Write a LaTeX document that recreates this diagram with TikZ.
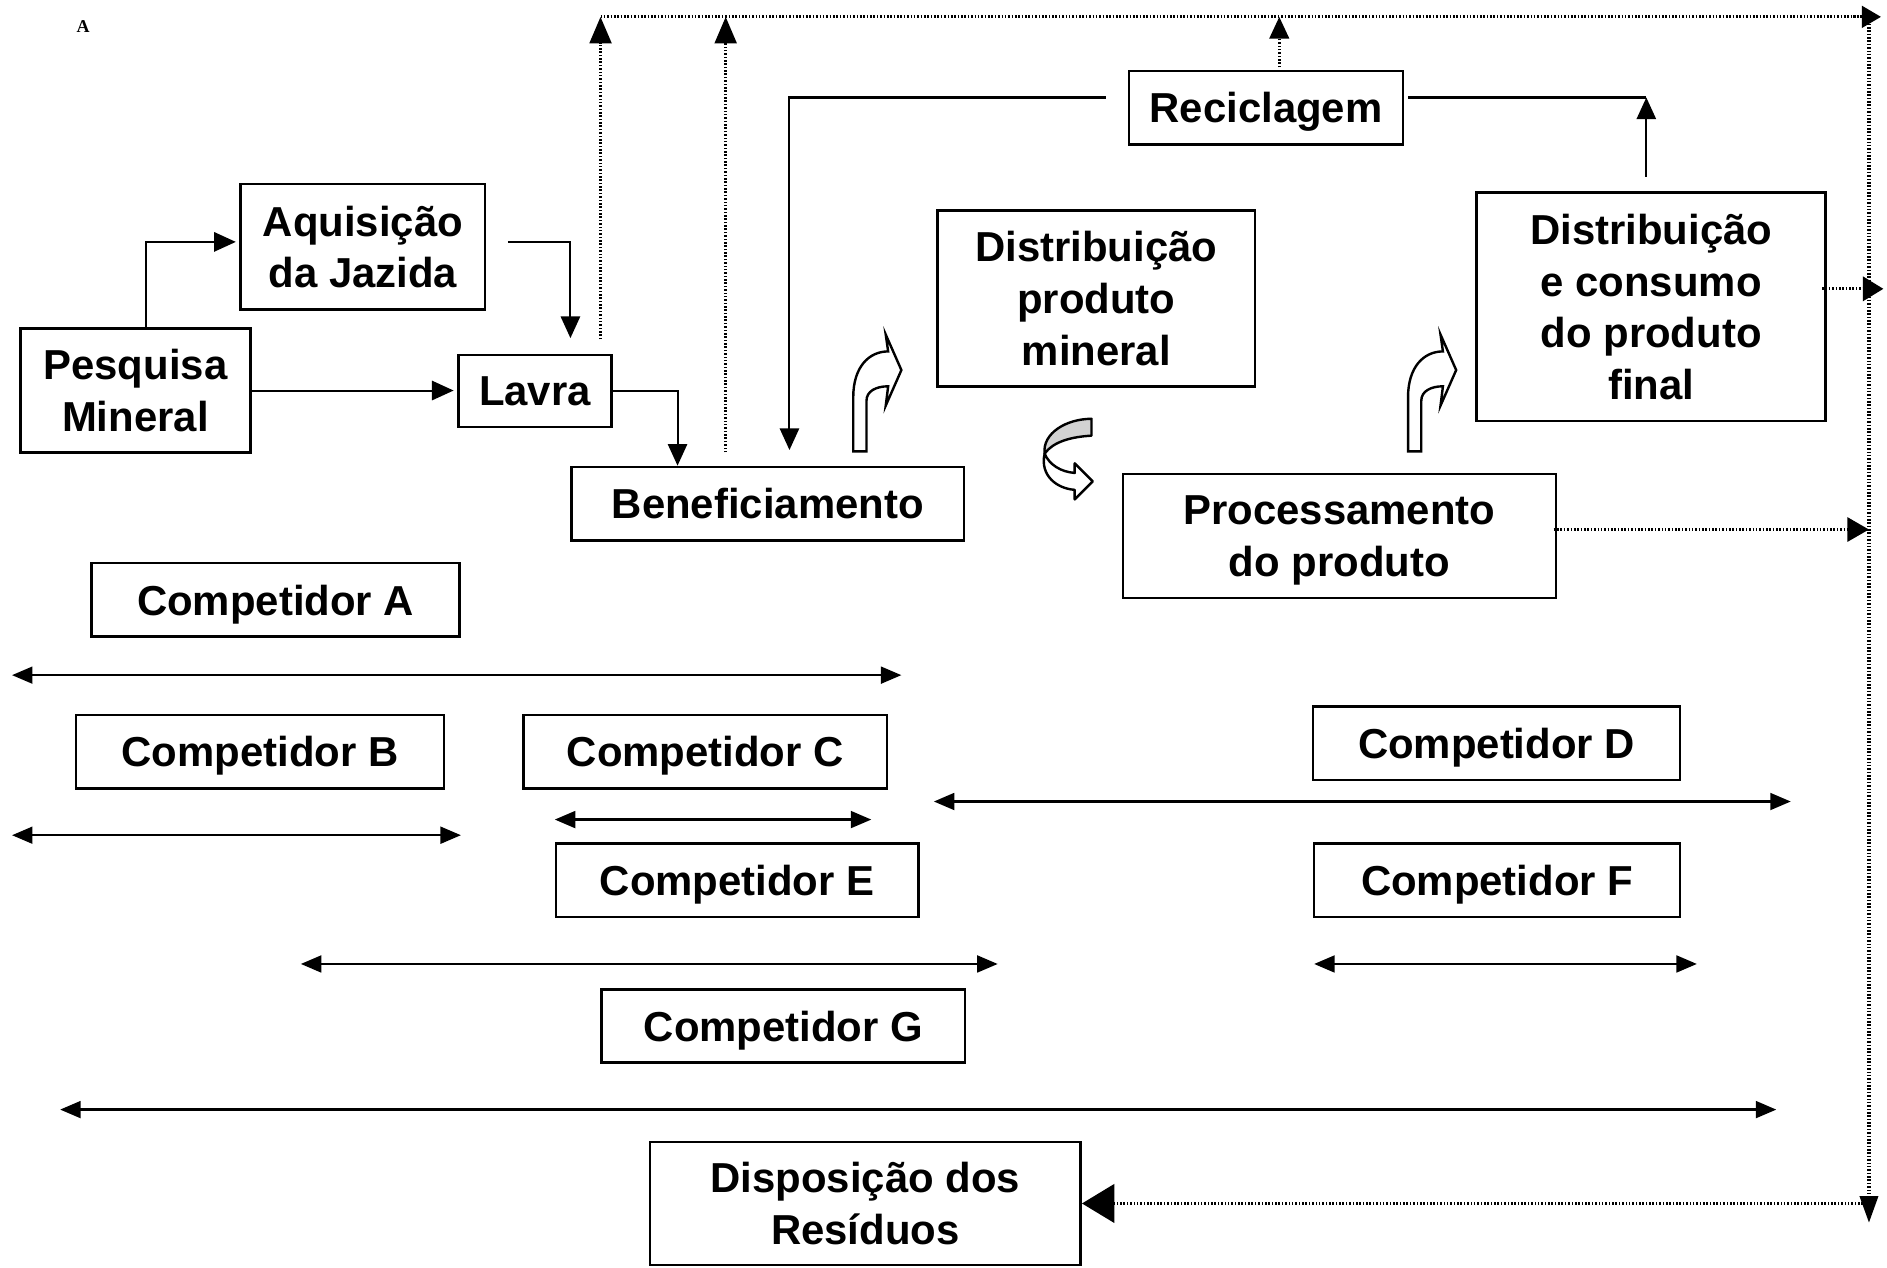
\documentclass[tikz,border=0pt]{standalone}
\usepackage{fontspec}
\setmainfont{Liberation Sans}
\newfontfamily\serifA{Liberation Serif}
\usetikzlibrary{arrows.meta,calc}
\begin{document}
\begin{tikzpicture}[x=1pt,y=-1pt,
 box/.style={draw, line width=2.1pt, inner sep=0pt, text depth=0pt, align=center, font=\fontsize{34.8}{43}\selectfont\bfseries},
 conn/.style={line width=1.7pt, -{Triangle[length=18pt,width=16pt]}},
 plainln/.style={line width=1.7pt},
 dbl/.style={line width=1.9pt, {Triangle[length=17pt,width=14pt]}-{Triangle[length=17pt,width=14pt]}},
 dots/.style={line width=2.6pt, dash pattern=on 1.3pt off 1.5pt},
 blockarrow/.style={draw, line width=2pt, fill=white, line join=miter},
]
\fill[white] (0,0) rectangle (1568,1053);
\useasboundingbox (0,0) rectangle (1568,1053);

\node[font=\serifA\bfseries\fontsize{15}{17}\selectfont] (lblA) at (69,22) {A};

% boxes
\node[box, minimum width=203pt, minimum height=104pt] (aq) at (301.5,205) {Aquisição\\da Jazida};
\node[box, minimum width=191pt, minimum height=103pt] (pesq) at (112.5,324.5) {Pesquisa\\Mineral};
\node[box, minimum width=127pt, minimum height=60pt] (lavra) at (444.5,325) {Lavra};
\node[box, minimum width=326pt, minimum height=61pt] (benef) at (638,418.5) {Beneficiamento};
\node[box, minimum width=228pt, minimum height=61pt] (recic) at (1052,89.5) {Reciclagem};
\node[box, minimum width=264pt, minimum height=146pt] (distmin) at (911,248) {Distribuição\\produto\\mineral};
\node[box, minimum width=290pt, minimum height=190pt] (distcons) at (1372,255) {Distribuição\\e consumo\\do produto\\final};
\node[box, minimum width=360pt, minimum height=103pt] (proc) at (1113,445.5) {Processamento\\do produto};
\node[box, minimum width=306pt, minimum height=61pt] (cA) at (229,498.5) {Competidor A};
\node[box, minimum width=306pt, minimum height=61pt] (cB) at (216,624.5) {Competidor B};
\node[box, minimum width=302pt, minimum height=61pt] (cC) at (586,624.5) {Competidor C};
\node[box, minimum width=305pt, minimum height=61pt] (cD) at (1243.5,617.5) {Competidor D};
\node[box, minimum width=301pt, minimum height=61pt] (cE) at (612.5,731.5) {Competidor E};
\node[box, minimum width=304pt, minimum height=61pt] (cF) at (1244,731.5) {Competidor F};
\node[box, minimum width=302pt, minimum height=61pt] (cG) at (651,852.5) {Competidor G};
\node[box, minimum width=358pt, minimum height=102pt] (disp) at (719,1000) {Disposição dos\\Resíduos};

% solid connectors
\draw[conn] ($(pesq.north)+(8.5,0)$) |- ($(aq.west)+(-3,-4)$);
\draw[conn, shorten >=3pt] (pesq.east) -- (pesq.east -| lavra.west);
\draw[conn] ($(aq.east)+(18,-4)$) -| ($(lavra.north)+(29.5,-13)$);
\draw[conn] (lavra.east) -| ($(benef.north)+(-75,0)$);
\draw[conn] ($(recic.west)+(-18,-8.5)$) -| ($(benef.north)+(18,-13)$);
\coordinate (rk) at ($(recic.east)+(3,-8.5)$);
\coordinate (dk) at ($(distcons.north)+(-4,-12)$);
\draw[plainln] (rk) -- (rk -| dk);
\draw[conn] (dk) -- (dk |- rk);

% dotted connectors
\coordinate (tl) at (499,14);
\coordinate (tr) at (1563,14);
\coordinate (rv) at (1553,14);
\coordinate (rb) at (1553,1016);
\coordinate (l1) at ($(lavra.north)+(54.5,-12)$);
\coordinate (b1) at ($(benef.north)+(-35,-11)$);
\coordinate (r1) at ($(recic.north)+(11,-2)$);
\draw[dots] (tl) -- (1548,14);
\draw[dots, -{Triangle[length=16pt,width=18pt]}] (1540,14) -- (tr);
\draw[dots, -{Triangle[length=22pt,width=18pt]}] (l1) -- (l1 |- tl);
\draw[dots, -{Triangle[length=22pt,width=18pt]}] (b1) -- (b1 |- tl);
\draw[dots, -{Triangle[length=18pt,width=16pt]}] (r1) -- (r1 |- tl);
\draw[dots, -{Triangle[length=22pt,width=15pt]}] (rv) -- (rb);
\coordinate (dc1) at ($(distcons.east)+(-4,-15)$);
\coordinate (dc2) at (1565,240);
\draw[dots, -{Triangle[length=17pt,width=20pt]}] (dc1) -- (dc2);
\coordinate (pr1) at ($(proc.east)+(-3,-5.5)$);
\draw[dots, -{Triangle[length=18pt,width=20pt]}] (pr1) -- (pr1 -| rv);
\coordinate (db) at (1548,1000);
\draw[dots, -{Triangle[length=27pt,width=32pt]}] (db) -- (db -| disp.east);

% competitor ranges
\coordinate (aL) at (10,561);   \coordinate (aR) at (749,561);
\coordinate (bL) at (10,694);   \coordinate (bR) at (383,694);
\coordinate (cL) at (461,681);  \coordinate (cR) at (724,681);
\coordinate (dL) at (776,666);  \coordinate (dR) at (1488,666);
\coordinate (eL) at (250,801);  \coordinate (eR) at (829,801);
\coordinate (fL) at (1092,801); \coordinate (fR) at (1410,801);
\coordinate (gL) at (50,922);   \coordinate (gR) at (1476,922);
\draw[dbl] (aL) -- (aR);
\draw[dbl] (bL) -- (bR);
\draw[dbl] (cL) -- (cR);
\draw[dbl] (dL) -- (dR);
\draw[dbl] (eL) -- (eR);
\draw[dbl] (fL) -- (fR);
\draw[dbl] (gL) -- (gR);

% block arrows
\foreach \dx in {0,461}{
\begin{scope}[shift={(\dx,0)}]
\draw[blockarrow] (709,375) -- (709,330) .. controls (709,305) and (722,292) .. (738,292)
  -- (736,278) -- (749,307.5) -- (736,337) -- (738,321)
  .. controls (728,321) and (720,325) .. (720,333) -- (720,375) -- cycle;
\end{scope}}

% twisted curved arrow
\draw[line width=2pt, fill=gray!35, line join=round] (907,348) -- (907,362)
  .. controls (890,363) and (875,367) .. (868,377)
  .. controls (866,360) and (886,348) .. cycle;
\draw[blockarrow, line join=round] (868,377) .. controls (864,395) and (878,406) .. (893,407)
  -- (893,415) -- (908,400) -- (893,385) -- (893,393)
  .. controls (881,392) and (872,386) .. (868,377) -- cycle;
\end{tikzpicture}
\end{document}
